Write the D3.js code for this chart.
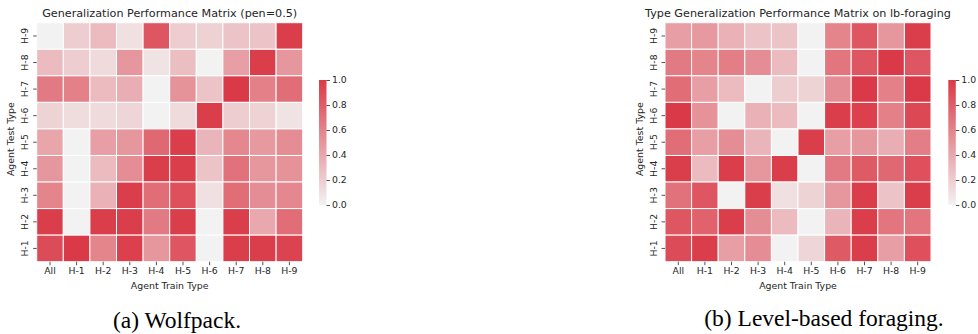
<!DOCTYPE html>
<html>
<head>
<meta charset="utf-8">
<script src="https://cdn.jsdelivr.net/npm/d3@7"></script>
<style>
  html, body { margin: 0; padding: 0; background: #fff; }
  svg { display: block; }
  text { font-family: "DejaVu Sans", sans-serif; fill: #262626; }
  .caption { font-family: "Liberation Serif", "Times New Roman", serif; fill: #000; }
</style>
</head>
<body>
<svg id="chart" width="978" height="334"></svg>
<script>
// Column (train type) and row (test type) labels shared by both matrices
const trainTypes = ["All", "H-1", "H-2", "H-3", "H-4", "H-5", "H-6", "H-7", "H-8", "H-9"];
const testTypes = ["H-9", "H-8", "H-7", "H-6", "H-5", "H-4", "H-3", "H-2", "H-1"];
const colorbarTicks = [0.0, 0.2, 0.4, 0.6, 0.8, 1.0];

// Wolfpack (pen=0.5): one row per test type, top to bottom, columns follow trainTypes
const wolfpackValues = [
  [0.00, 0.20, 0.30, 0.10, 0.85, 0.20, 0.18, 0.25, 0.25, 0.98],
  [0.30, 0.20, 0.13, 0.50, 0.08, 0.28, 0.00, 0.45, 0.98, 0.50],
  [0.65, 0.62, 0.30, 0.37, 0.00, 0.52, 0.25, 1.00, 0.62, 0.72],
  [0.17, 0.12, 0.13, 0.15, 0.00, 0.13, 0.98, 0.20, 0.17, 0.08],
  [0.42, 0.00, 0.45, 0.50, 0.75, 0.98, 0.33, 0.58, 0.48, 0.55],
  [0.50, 0.00, 0.30, 0.55, 0.98, 0.98, 0.25, 0.70, 0.50, 0.52],
  [0.60, 0.00, 0.35, 0.98, 0.72, 0.88, 0.10, 0.72, 0.55, 0.58],
  [0.98, 0.00, 0.98, 0.98, 0.65, 0.98, 0.00, 0.98, 0.40, 0.72],
  [0.90, 1.00, 0.60, 0.97, 0.50, 0.85, 0.00, 0.98, 0.98, 0.95]
];

// Level-based foraging
const foragingValues = [
  [0.45, 0.48, 0.35, 0.25, 0.25, 0.00, 0.60, 0.85, 0.50, 0.98],
  [0.65, 0.60, 0.63, 0.55, 0.30, 0.00, 0.68, 0.85, 1.00, 0.85],
  [0.72, 0.45, 0.30, 0.00, 0.20, 0.17, 0.55, 1.00, 0.62, 1.00],
  [1.00, 0.52, 0.00, 0.35, 0.30, 0.00, 0.98, 0.97, 0.62, 0.92],
  [0.72, 0.45, 0.55, 0.33, 0.00, 0.98, 0.45, 0.50, 0.37, 0.63],
  [0.98, 0.30, 0.98, 0.50, 0.98, 0.00, 0.65, 0.82, 0.75, 0.88],
  [0.70, 0.85, 0.00, 0.98, 0.10, 0.17, 0.50, 0.98, 0.25, 0.98],
  [0.85, 0.78, 0.98, 0.55, 0.30, 0.00, 0.33, 0.98, 0.68, 0.68],
  [0.90, 0.98, 0.45, 0.55, 0.00, 0.15, 0.82, 0.98, 0.45, 0.88]
];

const panels = [
  {
    id: "wolf",
    title: "Generalization Performance Matrix (pen=0.5)",
    caption: "(a) Wolfpack.",
    values: wolfpackValues,
    x0: 36.7, x1: 302.7,
    cbX: 319,
    captionX: 177, captionY: 328
  },
  {
    id: "lbf",
    title: "Type Generalization Performance Matrix on lb-foraging",
    caption: "(b) Level-based foraging.",
    values: foragingValues,
    x0: 665, x1: 931,
    cbX: 948.3,
    captionX: 824, captionY: 326
  }
];

const gridTop = 22.7, gridBottom = 261.7;
const cbTop = 80, cbBottom = 205, cbWidth = 7.5;
const lowColor = "#f2f2f2", highColor = "#da3a47";

const color = d3.scaleLinear().domain([0, 1]).range([lowColor, highColor]).clamp(true);

const svg = d3.select("#chart");
const defs = svg.append("defs");
const grad = defs.append("linearGradient")
  .attr("id", "cbGrad").attr("x1", 0).attr("y1", 1).attr("x2", 0).attr("y2", 0);
grad.append("stop").attr("offset", "0%").attr("stop-color", lowColor);
grad.append("stop").attr("offset", "100%").attr("stop-color", highColor);

panels.forEach(p => {
  const g = svg.append("g").attr("class", p.id);
  const x = d3.scaleBand().domain(trainTypes).range([p.x0, p.x1]).padding(0);
  const y = d3.scaleBand().domain(testTypes).range([gridTop, gridBottom]).padding(0);

  const cells = [];
  p.values.forEach((row, i) => row.forEach((v, j) => cells.push({ test: testTypes[i], train: trainTypes[j], v })));

  g.selectAll("rect.cell").data(cells).join("rect")
    .attr("class", "cell")
    .attr("x", d => x(d.train))
    .attr("y", d => y(d.test))
    .attr("width", x.bandwidth())
    .attr("height", y.bandwidth())
    .attr("fill", d => color(d.v))
    .attr("stroke", "#fff")
    .attr("stroke-width", 1);

  // x axis
  const xAxis = g.append("g")
    .attr("transform", `translate(0,${gridBottom})`)
    .call(d3.axisBottom(x).tickSize(3.5).tickPadding(2.5));
  xAxis.select(".domain").remove();
  xAxis.selectAll(".tick line").attr("stroke", "#262626").attr("stroke-width", 0.8);
  xAxis.selectAll(".tick text").attr("font-size", 9.3).attr("fill", "#262626")
    .style("font-family", "DejaVu Sans, sans-serif");

  // y axis, labels rotated to read bottom-to-top
  const yAxis = g.append("g")
    .attr("transform", `translate(${p.x0},0)`)
    .call(d3.axisLeft(y).tickSize(3.5).tickPadding(2));
  yAxis.select(".domain").remove();
  yAxis.selectAll(".tick line").attr("stroke", "#262626").attr("stroke-width", 0.8);
  yAxis.selectAll(".tick text")
    .attr("font-size", 9.3).attr("fill", "#262626")
    .style("font-family", "DejaVu Sans, sans-serif")
    .attr("x", null)
    .attr("text-anchor", "middle")
    .attr("transform", "translate(-11.5,0) rotate(-90)")
    .attr("dy", "0.35em");

  // axis titles
  g.append("text")
    .attr("x", (p.x0 + p.x1) / 2).attr("y", 289)
    .attr("text-anchor", "middle").attr("font-size", 9.4)
    .text("Agent Train Type");
  g.append("text")
    .attr("transform", `translate(${p.x0 - 22.5},${(gridTop + gridBottom) / 2 - 3}) rotate(-90)`)
    .attr("text-anchor", "middle").attr("font-size", 9.4)
    .text("Agent Test Type");

  // chart title
  g.append("text")
    .attr("x", (p.x0 + p.x1) / 2).attr("y", 17)
    .attr("text-anchor", "middle").attr("font-size", 11.2)
    .text(p.title);

  // colour bar
  const cb = d3.scaleLinear().domain([0, 1]).range([cbBottom, cbTop]);
  g.append("rect")
    .attr("x", p.cbX).attr("y", cbTop)
    .attr("width", cbWidth).attr("height", cbBottom - cbTop)
    .attr("fill", "url(#cbGrad)");
  const cbAxis = g.append("g")
    .attr("transform", `translate(${p.cbX + cbWidth},0)`)
    .call(d3.axisRight(cb).tickValues(colorbarTicks).tickFormat(d3.format(".1f")).tickSize(3.5).tickPadding(2));
  cbAxis.select(".domain").remove();
  cbAxis.selectAll(".tick line").attr("stroke", "#262626").attr("stroke-width", 0.8);
  cbAxis.selectAll(".tick text").attr("font-size", 9.3).attr("fill", "#262626")
    .style("font-family", "DejaVu Sans, sans-serif");

  // panel caption
  g.append("text").attr("class", "caption")
    .attr("x", p.captionX).attr("y", p.captionY)
    .attr("text-anchor", "middle").attr("font-size", 23.5)
    .text(p.caption);
});
</script>
</body>
</html>
